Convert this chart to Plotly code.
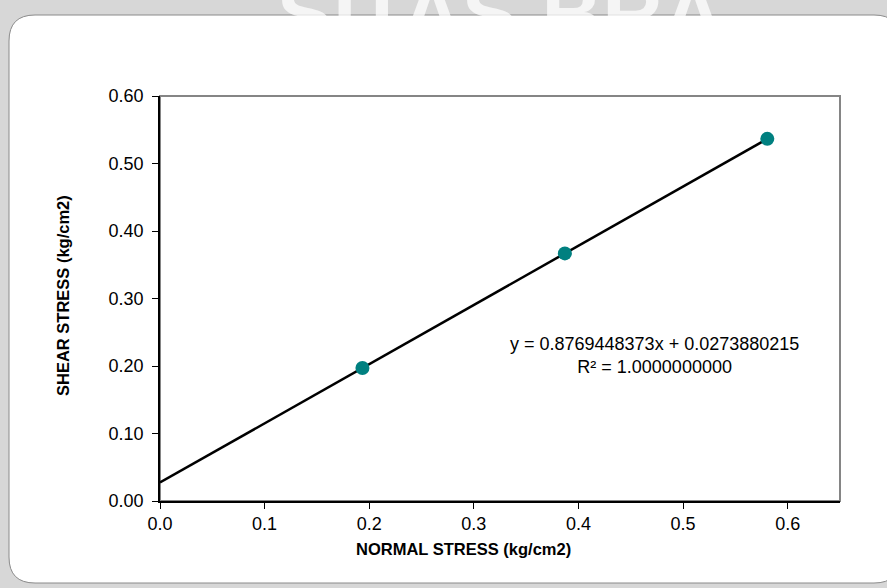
import plotly.graph_objects as go

# ---- data ----
normal_stress = [0.1935, 0.3870, 0.5805]
shear_stress = [0.1971, 0.3668, 0.5365]
slope = 0.8769448373
intercept = 0.0273880215
equation_text = "y = 0.8769448373x + 0.0273880215<br>R² = 1.0000000000"
x_tickvals = [0.0, 0.1, 0.2, 0.3, 0.4, 0.5, 0.6]
y_tickvals = [0.0, 0.1, 0.2, 0.3, 0.4, 0.5, 0.6]
x_title = "NORMAL STRESS (kg/cm2)"
y_title = "SHEAR STRESS (kg/cm2)"

trend_x = [0.0, max(normal_stress)]
trend_y = [slope * v + intercept for v in trend_x]

# ---- layout geometry (pixels) ----
WIDTH, HEIGHT = 887, 588
L, R, T, B = 160, 840, 96, 501
PW, PH = R - L, B - T


def px(x):
    return (x - L) / PW


def py(y):
    return (B - y) / PH


FONT = "Liberation Sans, Arial, sans-serif"

fig = go.Figure()

fig.add_trace(go.Scatter(
    x=trend_x, y=trend_y, mode="lines",
    line=dict(color="black", width=2.5),
    hoverinfo="skip", showlegend=False,
))
fig.add_trace(go.Scatter(
    x=normal_stress, y=shear_stress, mode="markers",
    marker=dict(color="#008080", size=14, line=dict(width=0)),
    showlegend=False,
))

# rounded card
x0, y0, x1, y1, r = 9, 15, 900, 583, 26
card_path = (
    f"M {px(x0 + r)} {py(y0)} L {px(x1 - r)} {py(y0)} "
    f"Q {px(x1)} {py(y0)} {px(x1)} {py(y0 + r)} "
    f"L {px(x1)} {py(y1 - r)} Q {px(x1)} {py(y1)} {px(x1 - r)} {py(y1)} "
    f"L {px(x0 + r)} {py(y1)} Q {px(x0)} {py(y1)} {px(x0)} {py(y1 - r)} "
    f"L {px(x0)} {py(y0 + r)} Q {px(x0)} {py(y0)} {px(x0 + r)} {py(y0)} Z"
)

shapes = [
    dict(type="path", xref="paper", yref="paper", path=card_path,
         fillcolor="white", line=dict(color="#8a8a8a", width=1), layer="below"),
    dict(type="rect", xref="paper", yref="paper", x0=0, y0=0, x1=1, y1=1,
         fillcolor="rgba(0,0,0,0)", line=dict(color="#858585", width=2), layer="below"),
]

annotations = [
    # faint watermark behind the card (mostly hidden by it)
    dict(text="<b>SITAS BRA</b>", xref="paper", yref="paper",
         x=px(500), y=py(62), xanchor="center", yanchor="bottom",
         showarrow=False, font=dict(family=FONT, size=84, color="rgba(255,255,255,0.75)")),
    dict(text=equation_text, xref="paper", yref="paper",
         x=px(654), y=py(355), xanchor="center", yanchor="middle",
         showarrow=False, align="center",
         font=dict(family=FONT, size=18, color="black")),
    dict(text=f"<b>{x_title}</b>", xref="paper", yref="paper",
         x=px(463), y=py(549), xanchor="center", yanchor="middle",
         showarrow=False, font=dict(family=FONT, size=16.5, color="black")),
    dict(text=f"<b>{y_title}</b>", xref="paper", yref="paper",
         x=px(63), y=py(296), xanchor="center", yanchor="middle",
         textangle=-90, showarrow=False,
         font=dict(family=FONT, size=16.5, color="black")),
]

fig.update_layout(
    width=WIDTH, height=HEIGHT,
    margin=dict(l=L, r=WIDTH - R, t=T, b=HEIGHT - B, pad=0),
    paper_bgcolor="#d7d7d7",
    plot_bgcolor="rgba(0,0,0,0)",
    shapes=shapes,
    annotations=annotations,
    font=dict(family=FONT, size=18, color="black"),
    xaxis=dict(
        range=[0, 0.65], tickvals=x_tickvals, tickformat=".1f",
        showgrid=False, zeroline=False,
        showline=True, linecolor="black", linewidth=1.5,
        ticks="outside", ticklen=6, tickcolor="black", tickwidth=1,
        tickfont=dict(family=FONT, size=18, color="black"),
    ),
    yaxis=dict(
        range=[0, 0.6], tickvals=y_tickvals, tickformat=".2f",
        showgrid=False, zeroline=False,
        showline=True, linecolor="black", linewidth=1.5,
        ticks="outside", ticklen=6, tickcolor="black", tickwidth=1,
        ticklabelstandoff=5,
        tickfont=dict(family=FONT, size=18, color="black"),
    ),
)

fig.write_html(
    "out.html",
    config={"displayModeBar": False},
    post_script="document.body.style.margin='0';document.body.style.overflow='hidden';",
)
